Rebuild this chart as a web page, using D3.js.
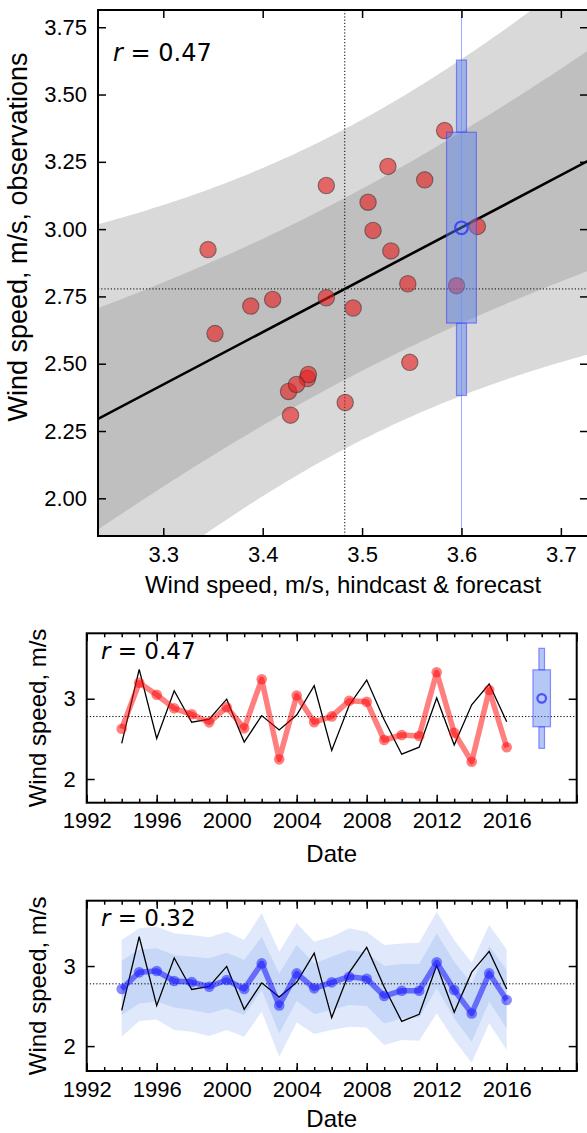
<!DOCTYPE html>
<html><head><meta charset="utf-8">
<script src="https://cdn.jsdelivr.net/npm/d3@7/dist/d3.min.js"></script>
<style>
body{margin:0;background:#fff}
svg{display:block}
text{font-family:"Liberation Sans",Arial,sans-serif;fill:#000}
</style>
</head><body>
<svg id="c" width="587" height="1133"></svg>
<script>
// ---------------- data ----------------
const years = [1994,1995,1996,1997,1998,1999,2000,2001,2002,2003,2004,2005,2006,2007,2008,2009,2010,2011,2012,2013,2014,2015,2016];
const observed = [2.445,3.366,2.505,3.100,2.707,2.745,2.995,2.460,2.790,2.612,2.797,3.162,2.356,2.919,3.233,2.739,2.309,2.397,3.010,2.423,2.924,3.183,2.714];
const hindcast = [3.445,3.583,3.548,3.506,3.491,3.464,3.511,3.446,3.595,3.352,3.546,3.464,3.483,3.529,3.526,3.410,3.428,3.426,3.616,3.434,3.345,3.563,3.388];
const hindcastRescaled = [2.626,3.199,3.050,2.880,2.806,2.706,2.893,2.631,3.242,2.245,3.040,2.708,2.780,2.975,2.963,2.486,2.548,2.535,3.329,2.577,2.215,3.108,2.395];
const crossValidated = [2.713,2.921,2.938,2.813,2.800,2.742,2.825,2.713,3.033,2.508,2.908,2.721,2.796,2.867,2.842,2.625,2.692,2.692,3.046,2.700,2.408,2.908,2.575];
const cvInnerHigh = [3.067,3.208,3.221,3.138,3.117,3.096,3.167,3.075,3.367,2.908,3.263,3.033,3.117,3.200,3.167,3.000,3.025,3.025,3.408,3.054,2.783,3.250,2.950];
const cvInnerLow  = [2.388,2.533,2.554,2.483,2.450,2.408,2.471,2.388,2.700,2.158,2.565,2.400,2.450,2.513,2.500,2.283,2.346,2.358,2.721,2.346,2.054,2.554,2.221];
const cvOuterHigh = [3.325,3.471,3.492,3.408,3.388,3.358,3.429,3.325,3.658,3.179,3.533,3.304,3.367,3.471,3.429,3.263,3.283,3.292,3.679,3.325,3.042,3.513,3.208];
const cvOuterLow  = [2.117,2.313,2.333,2.200,2.179,2.125,2.200,2.117,2.429,1.867,2.294,2.150,2.200,2.242,2.233,2.013,2.075,2.067,2.408,2.075,1.792,2.283,1.950];
const forecastHindcast = 3.6;
const forecastYear = 2018;
const forecastQuantiles = [2.382, 2.651, 3.005, 3.360, 3.628]; // low whisker, q1, centre, q3, high whisker
const predictionT = [2.080, 1.183]; // 95 % and 75 % prediction intervals (t, 21 dof)
const corrLabels = ["0.47", "0.47", "0.32"];
const scatterXTicks = [3.3, 3.4, 3.5, 3.6, 3.7];
const scatterYTicks = [2.00, 2.25, 2.50, 2.75, 3.00, 3.25, 3.50, 3.75];
const yearTicks = [1992, 1996, 2000, 2004, 2008, 2012, 2016, 2020];
const yearMinorTicks = [1992,1993,1994,1995,1996,1997,1998,1999,2000,2001,2002,2003,2004,2005,2006,2007,2008,2009,2010,2011,2012,2013,2014,2015,2016,2017,2018,2019,2020];
const seriesYTicks = [2, 3];
const labels = {
  scatterX: "Wind speed, m/s, hindcast & forecast",
  scatterY: "Wind speed, m/s, observations",
  seriesY: "Wind speed, m/s",
  date: "Date"
};

// ---------------- helpers ----------------
const svg = d3.select("#c");
const defs = svg.append("defs");
function clip(id, P) {
  defs.append("clipPath").attr("id", id).append("rect")
    .attr("x", P.l).attr("y", P.t).attr("width", P.r - P.l).attr("height", P.b - P.t);
}
function styleAxis(g, fs) {
  g.select(".domain").remove();
  g.selectAll(".tick line").attr("stroke", "#000").attr("stroke-width", 1.5);
  g.selectAll(".tick text").attr("font-size", fs).attr("fill", "#000")
    .attr("font-family", '"Liberation Sans", Arial, sans-serif');
}
function frameAxes(P, xs, ys, xT, yT, fx, fy, xMinor) {
  const g = svg.append("g");
  g.append("g").attr("transform", `translate(0,${P.b})`)
    .call(d3.axisBottom(xs).tickValues(xT).tickSize(-8).tickPadding(10).tickFormat(fx))
    .call(a => styleAxis(a, 22));
  g.append("g").attr("transform", `translate(0,${P.t})`)
    .call(d3.axisTop(xs).tickValues(xT).tickSize(-8).tickFormat(""))
    .call(a => styleAxis(a, 22));
  g.append("g").attr("transform", `translate(${P.l},0)`)
    .call(d3.axisLeft(ys).tickValues(yT).tickSize(-8).tickPadding(11).tickFormat(fy))
    .call(a => styleAxis(a, 22));
  g.append("g").attr("transform", `translate(${P.r},0)`)
    .call(d3.axisRight(ys).tickValues(yT).tickSize(-8).tickFormat(""))
    .call(a => styleAxis(a, 22));
  if (xMinor) {
    g.append("g").attr("transform", `translate(0,${P.b})`)
      .call(d3.axisBottom(xs).tickValues(xMinor).tickSize(-4).tickFormat(""))
      .call(a => styleAxis(a, 22));
    g.append("g").attr("transform", `translate(0,${P.t})`)
      .call(d3.axisTop(xs).tickValues(xMinor).tickSize(-4).tickFormat(""))
      .call(a => styleAxis(a, 22));
  }
  g.append("rect").attr("x", P.l).attr("y", P.t).attr("width", P.r - P.l).attr("height", P.b - P.t)
    .attr("fill", "none").attr("stroke", "#000").attr("stroke-width", 2);
}
function rText(x, y, val, fs) {
  const t = svg.append("text").attr("x", x).attr("y", y)
    .attr("font-size", fs)
    .style("font-family", '"DejaVu Sans", sans-serif');
  t.append("tspan").attr("font-style", "italic").text("r");
  t.append("tspan").text(" = " + val);
}
function yLabel(x, y, txt, fs) {
  svg.append("text").attr("transform", `translate(${x},${y}) rotate(-90)`)
    .attr("text-anchor", "middle").attr("font-size", fs).text(txt);
}
function xLabel(x, y, txt) {
  svg.append("text").attr("x", x).attr("y", y).attr("text-anchor", "middle").attr("font-size", 24).text(txt);
}
function boxPlot(g, xs, ys, xc, wideHalf, narrowHalf, circleR) {
  const q = forecastQuantiles;
  const boxFill = "rgb(90,130,235)", boxEdge = "rgb(60,60,255)";
  [[q[3], q[4]], [q[0], q[1]]].forEach(([lo, hi]) => {
    g.append("rect").attr("x", xs(xc - narrowHalf)).attr("width", xs(xc + narrowHalf) - xs(xc - narrowHalf))
      .attr("y", ys(hi)).attr("height", ys(lo) - ys(hi))
      .attr("fill", boxFill).attr("fill-opacity", 0.45)
      .attr("stroke", boxEdge).attr("stroke-opacity", 0.55).attr("stroke-width", 1.2);
  });
  g.append("rect").attr("x", xs(xc - wideHalf)).attr("width", xs(xc + wideHalf) - xs(xc - wideHalf))
    .attr("y", ys(q[3])).attr("height", ys(q[1]) - ys(q[3]))
    .attr("fill", boxFill).attr("fill-opacity", 0.45)
    .attr("stroke", boxEdge).attr("stroke-opacity", 0.55).attr("stroke-width", 1.2);
  g.append("circle").attr("cx", xs(xc)).attr("cy", ys(q[2])).attr("r", circleR)
    .attr("fill", "none").attr("stroke", "rgb(50,50,255)").attr("stroke-opacity", 0.8).attr("stroke-width", 2.2);
}

// ---------------- statistics of the scatter ----------------
const n = years.length;
const xm = d3.mean(hindcast), ym = d3.mean(observed);
let sxx = 0, sxy = 0;
hindcast.forEach((x, i) => { sxx += (x - xm) ** 2; sxy += (x - xm) * (observed[i] - ym); });
const slope = sxy / sxx, icpt = ym - slope * xm;
let sse = 0;
hindcast.forEach((x, i) => { sse += (observed[i] - (icpt + slope * x)) ** 2; });
const sRes = Math.sqrt(sse / (n - 2));
const fit = x => icpt + slope * x;
const halfW = (x, t) => t * sRes * Math.sqrt(1 + 1 / n + (x - xm) ** 2 / sxx);

// ---------------- panel 1: scatter ----------------
const T = {l: 98, r: 588, t: 10, b: 536};
const x1 = d3.scaleLinear().domain([3.2343, 3.7273]).range([T.l, T.r]);
const y1 = d3.scaleLinear().domain([1.86, 3.814]).range([T.b, T.t]);
clip("clipT", T);
const gT = svg.append("g").attr("clip-path", "url(#clipT)");
const xsSamples = d3.range(0, 101).map(i => x1.domain()[0] + (x1.domain()[1] - x1.domain()[0]) * i / 100);
const bandFills = ["#d9d9d9", "#bfbfbf"];
predictionT.forEach((t, k) => {
  gT.append("path").datum(xsSamples)
    .attr("d", d3.area().x(d => x1(d)).y0(d => y1(fit(d) - halfW(d, t))).y1(d => y1(fit(d) + halfW(d, t))))
    .attr("fill", bandFills[k]);
});
gT.append("line").attr("x1", x1(xm)).attr("x2", x1(xm)).attr("y1", T.t).attr("y2", T.b)
  .attr("stroke", "#000").attr("stroke-width", 1).attr("stroke-dasharray", "1.2,2");
gT.append("line").attr("x1", T.l).attr("x2", T.r).attr("y1", y1(ym)).attr("y2", y1(ym))
  .attr("stroke", "#000").attr("stroke-width", 1).attr("stroke-dasharray", "1.2,2");
gT.append("line").attr("x1", x1(forecastHindcast)).attr("x2", x1(forecastHindcast)).attr("y1", T.t).attr("y2", T.b)
  .attr("stroke", "rgb(140,165,255)").attr("stroke-opacity", 0.9).attr("stroke-width", 1);
gT.append("path").datum(x1.domain())
  .attr("d", d3.line().x(d => x1(d)).y(d => y1(fit(d))))
  .attr("stroke", "#000").attr("stroke-width", 2.6).attr("fill", "none");
gT.selectAll("circle.pt").data(years).enter().append("circle").attr("class", "pt")
  .attr("cx", (d, i) => x1(hindcast[i])).attr("cy", (d, i) => y1(observed[i])).attr("r", 8.2)
  .attr("fill", "rgb(232,30,30)").attr("fill-opacity", 0.62)
  .attr("stroke", "rgb(50,50,50)").attr("stroke-opacity", 0.55).attr("stroke-width", 1.1);
boxPlot(gT, x1, y1, forecastHindcast, 0.015, 0.005, 6.3);
frameAxes(T, x1, y1, scatterXTicks, scatterYTicks, d3.format(".1f"), d3.format(".2f"));
rText(113, 61, corrLabels[0], 24);
xLabel((T.l + T.r) / 2, 593, labels.scatterX);
yLabel(27, 237, labels.scatterY, 27);

// ---------------- panel 2: rescaled hindcast ----------------
const M = {l: 86.7, r: 576.7, t: 633.3, b: 802.7};
const x2 = d3.scaleLinear().domain([1992, 2020]).range([M.l, M.r]);
const y2 = d3.scaleLinear().domain([1.705, 3.815]).range([M.b, M.t]);
clip("clipM", M);
const gM = svg.append("g").attr("clip-path", "url(#clipM)");
gM.append("line").attr("x1", M.l).attr("x2", M.r).attr("y1", y2(ym)).attr("y2", y2(ym))
  .attr("stroke", "#000").attr("stroke-width", 1).attr("stroke-dasharray", "1.2,2");
gM.append("path").datum(years)
  .attr("d", d3.line().x(d => x2(d)).y((d, i) => y2(observed[i])))
  .attr("fill", "none").attr("stroke", "#000").attr("stroke-width", 1.3);
gM.append("path").datum(years)
  .attr("d", d3.line().x(d => x2(d)).y((d, i) => y2(hindcastRescaled[i])))
  .attr("fill", "none").attr("stroke", "rgb(255,0,0)").attr("stroke-opacity", 0.5).attr("stroke-width", 5.5)
  .attr("stroke-linejoin", "round");
gM.selectAll("circle.rp").data(years).enter().append("circle").attr("class", "rp")
  .attr("cx", d => x2(d)).attr("cy", (d, i) => y2(hindcastRescaled[i])).attr("r", 5.3)
  .attr("fill", "rgb(255,0,0)").attr("fill-opacity", 0.5);
boxPlot(gM, x2, y2, forecastYear, 0.5, 0.16, 4.3);
frameAxes(M, x2, y2, yearTicks, seriesYTicks, d => d === 2020 ? "" : String(d), d3.format("d"), yearMinorTicks);
rText(101, 659, corrLabels[1], 23);
xLabel((M.l + M.r) / 2, 862, labels.date);
yLabel(46, (M.t + M.b) / 2, labels.seriesY, 24);

// ---------------- panel 3: cross-validated regression ----------------
const B = {l: 86.7, r: 576.7, t: 900.7, b: 1071};
const x3 = d3.scaleLinear().domain([1992, 2020]).range([B.l, B.r]);
const y3 = d3.scaleLinear().domain([1.689, 3.816]).range([B.b, B.t]);
clip("clipB", B);
const gB = svg.append("g").attr("clip-path", "url(#clipB)");
[[cvOuterLow, cvOuterHigh], [cvInnerLow, cvInnerHigh]].forEach(([lo, hi]) => {
  gB.append("path").datum(years)
    .attr("d", d3.area().x(d => x3(d)).y0((d, i) => y3(lo[i])).y1((d, i) => y3(hi[i])))
    .attr("fill", "rgb(100,145,237)").attr("fill-opacity", 0.2);
});
gB.append("line").attr("x1", B.l).attr("x2", B.r).attr("y1", y3(ym)).attr("y2", y3(ym))
  .attr("stroke", "#000").attr("stroke-width", 1).attr("stroke-dasharray", "1.2,2");
gB.append("path").datum(years)
  .attr("d", d3.line().x(d => x3(d)).y((d, i) => y3(observed[i])))
  .attr("fill", "none").attr("stroke", "#000").attr("stroke-width", 1.3);
gB.append("path").datum(years)
  .attr("d", d3.line().x(d => x3(d)).y((d, i) => y3(crossValidated[i])))
  .attr("fill", "none").attr("stroke", "rgb(20,20,255)").attr("stroke-opacity", 0.55).attr("stroke-width", 5.5)
  .attr("stroke-linejoin", "round");
gB.selectAll("circle.bp").data(years).enter().append("circle").attr("class", "bp")
  .attr("cx", d => x3(d)).attr("cy", (d, i) => y3(crossValidated[i])).attr("r", 5.3)
  .attr("fill", "rgb(20,20,255)").attr("fill-opacity", 0.5);
frameAxes(B, x3, y3, yearTicks, seriesYTicks, d => d === 2020 ? "" : String(d), d3.format("d"), yearMinorTicks);
rText(101, 926, corrLabels[2], 23);
xLabel((B.l + B.r) / 2, 1127, labels.date);
yLabel(46, (B.t + B.b) / 2, labels.seriesY, 24);
</script>
</body></html>
